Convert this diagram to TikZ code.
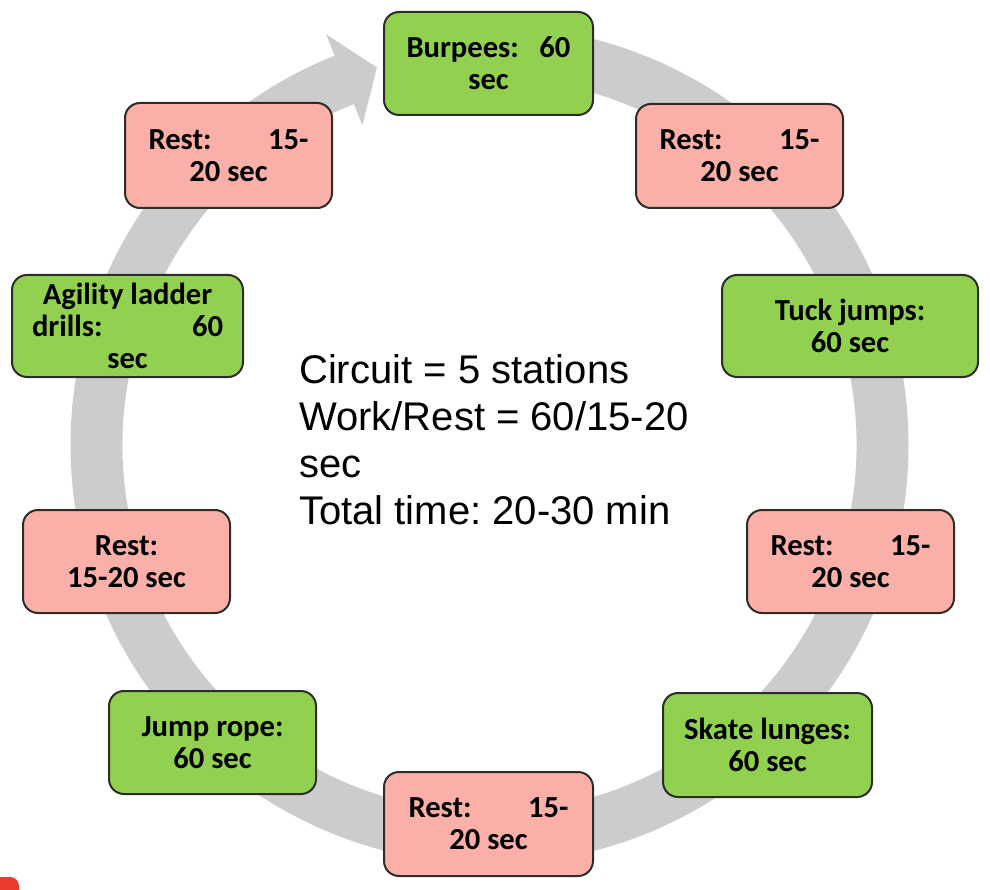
\documentclass[tikz,border=0pt]{standalone}
\usepackage{fontspec}
\newfontfamily\boxfont{Carlito}
\newfontfamily\infofont{Liberation Sans}
\usetikzlibrary{calc}
\frenchspacing
\definecolor{ringgray}{RGB}{204,204,204}
\definecolor{workgreen}{RGB}{146,208,80}
\definecolor{restpink}{RGB}{250,176,168}
\definecolor{boxline}{RGB}{45,45,40}
\definecolor{blobred}{RGB}{234,59,46}
\tikzset{
  card/.style={draw=boxline, line width=2pt, rounded corners=15pt, align=center,
    inner sep=0pt, text=black, font=\boxfont\bfseries\fontsize{30.6}{32}\selectfont},
  work/.style={card, fill=workgreen},
  rest/.style={card, fill=restpink},
}
\begin{document}
\begin{tikzpicture}[x=1pt, y=1pt]
  \useasboundingbox (0,0) rectangle (990,-890);
  \coordinate (C) at (489.5,-445);
  % circular arrow
  \fill[ringgray] ($(C)+(90:419)$) arc[start angle=90, end angle=-248.3, radius=419]
    -- ($(C)+(-248.3:442)$) -- ($(C)+(-253.4:394)$) -- ($(C)+(-248.3:344)$)
    -- ($(C)+(-248.3:367)$) arc[start angle=-248.3, end angle=90, radius=367] -- cycle;
  % red corner mark
  \begin{scope}
    \clip (0,0) rectangle (990,-890);
    \fill[blobred, rounded corners=9pt] (-20,-877) rectangle (19,-910);
  \end{scope}
  % stations
  \node[work, minimum width=209pt, minimum height=103pt] (burpees) at (488.5,-63.5)
    {\hbox to 164pt{Burpees:\hfill 60}\\sec};
  \node[rest, minimum width=207pt, minimum height=104pt] (restA) at (739.5,-156)
    {\hbox to 160pt{Rest:\hfill 15-}\\20 sec};
  \node[work, minimum width=256pt, minimum height=102pt] (tuck) at (850,-326)
    {Tuck jumps:\\60 sec};
  \node[rest, minimum width=207pt, minimum height=103pt] (restB) at (850.5,-561.5)
    {\hbox to 160pt{Rest:\hfill 15-}\\20 sec};
  \node[work, minimum width=209pt, minimum height=104pt] (skate) at (767.5,-745)
    {Skate lunges:\\60 sec};
  \node[rest, minimum width=209pt, minimum height=104pt] (restC) at (488.5,-824)
    {\hbox to 160pt{Rest:\hfill 15-}\\20 sec};
  \node[work, minimum width=207pt, minimum height=103pt] (jumprope) at (212.5,-742.5)
    {Jump rope:\\60 sec};
  \node[rest, minimum width=207pt, minimum height=103pt] (restD) at (126.5,-561.5)
    {Rest:\\15-20 sec};
  \node[work, minimum width=231pt, minimum height=102pt] (agility) at (127.5,-326)
    {Agility ladder\\\hbox to 191pt{drills:\hfill 60}\\sec};
  \node[rest, minimum width=207pt, minimum height=105pt] (restE) at (228.5,-155.5)
    {\hbox to 160pt{Rest:\hfill 15-}\\20 sec};
  % centre text
  \node[anchor=base west, inner sep=0pt] (info) at (299,-383)
    {\parbox[t]{420pt}{\infofont\fontsize{40}{47}\selectfont\raggedright
      Circuit = 5 stations\\Work/Rest = 60/15-20\\sec\\Total time: 20-30 min}};
\end{tikzpicture}
\end{document}
